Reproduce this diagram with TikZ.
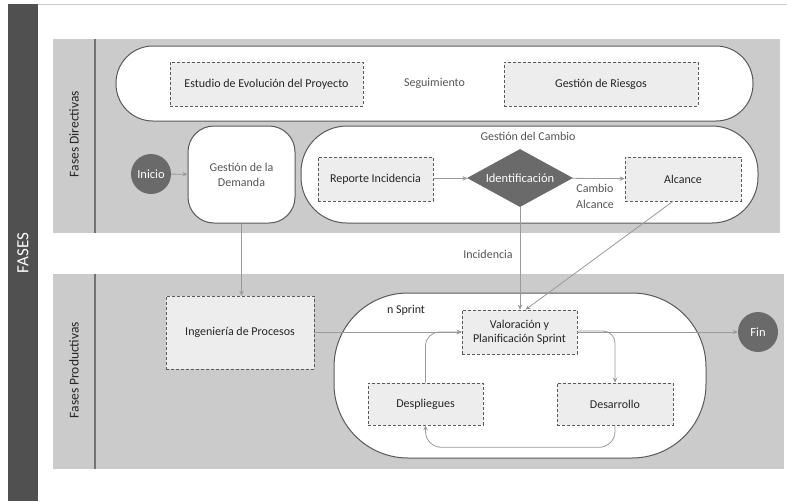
\documentclass[tikz,border=0pt]{standalone}
\usepackage{fontspec}
\setmainfont{Carlito}
\usetikzlibrary{shapes.geometric,arrows.meta}
\definecolor{bandgray}{HTML}{CBCBCB}
\definecolor{boxgray}{HTML}{EDEDED}
\definecolor{edgegray}{HTML}{5A5A5A}
\definecolor{darkdot}{HTML}{6A6A6A}
\definecolor{bargray}{HTML}{505050}
\definecolor{linkgray}{HTML}{9A9A9A}
\definecolor{txtgray}{HTML}{555555}
\tikzset{
  task/.style={rectangle, fill=boxgray, draw=edgegray, densely dashed, line width=0.6pt,
    font=\fontsize{12}{14}\selectfont, text=black!85, align=center, inner sep=0pt},
  pool/.style={rectangle, fill=white, draw=edgegray, line width=1pt, inner sep=0pt,
    font=\fontsize{12}{15}\selectfont, text=txtgray, align=center},
  event/.style={circle, fill=darkdot, draw=none, minimum size=40pt, inner sep=0pt,
    text=white, font=\fontsize{12.5}{14}\selectfont},
  note/.style={font=\fontsize{12}{14}\selectfont, text=txtgray, align=center, inner sep=0pt},
  lane/.style={font=\fontsize{13.5}{15}\selectfont, text=black!85, rotate=90, inner sep=0pt},
  link/.style={draw=linkgray, line width=0.8pt, -{Stealth[length=5pt,width=4.5pt]}}
}
\begin{document}
\begin{tikzpicture}[x=1pt,y=-1pt]
\useasboundingbox (0,0) rectangle (787,501);
\fill[white] (0,0) rectangle (787,501);
% frame
\draw[black!20, line width=0.8pt] (38,4) -- (787,4);
\fill[bargray] (8,4) rectangle (38,501);
\node[rotate=90, text=white, font=\fontsize{17}{19}\selectfont, inner sep=0pt] (fases) at (23,253) {FASES};

% lanes
\fill[bandgray] (53,39) rectangle (780,233);
\fill[bandgray] (53,274) rectangle (784,469);
\draw[black!55, line width=1.2pt] (95,39) -- (95,233);
\draw[black!55, line width=1.2pt] (95,274) -- (95,469);
\node[lane] (ldir) at (74,134) {Fases Directivas};
\node[lane] (lprod) at (74,370) {Fases Productivas};

% directive phases
\node[pool, minimum width=637pt, minimum height=75pt, rounded corners=37pt] (seg) at (434.5,83.5) {Seguimiento};
\node[task, minimum width=193pt, minimum height=44pt] (estudio) at (266.5,84) {Estudio de Evolución del Proyecto};
\node[task, minimum width=194pt, minimum height=44pt] (riesgos) at (601,84) {Gestión de Riesgos};

\node[pool, minimum width=107pt, minimum height=97pt, rounded corners=26pt] (demanda) at (241.5,174.5) {Gestión de la\\Demanda};
\node[pool, minimum width=457pt, minimum height=97pt, rounded corners=46pt] (cambio) at (529.5,174.5) {};
\node[note] (lcambio) at (528,136) {Gestión del Cambio};

\node[event] (inicio) at (151,174) {Inicio};
\node[task, minimum width=115pt, minimum height=44pt] (reporte) at (375.5,179) {Reporte Incidencia};
\node[diamond, shape aspect=1.83, fill=darkdot, draw=none, minimum width=106pt, minimum height=58pt,
  inner sep=0pt, text=white, font=\fontsize{12.5}{14}\selectfont] (ident) at (520,178) {Identificación};
\node[task, minimum width=116pt, minimum height=44pt] (alcance) at (683,179) {Alcance};
\node[note, font=\fontsize{12}{16}\selectfont] (lalc) at (595,196) {Cambio\\Alcance};

% productive phases
\node[task, minimum width=148pt, minimum height=73pt] (ingen) at (240,332.5) {Ingeniería de Procesos};
\node[pool, minimum width=372pt, minimum height=165pt, rounded corners=74pt] (sprint) at (520,375.5) {};
\node[note, text=black!85] (lsprint) at (406,310) {n Sprint};
\node[task, minimum width=115pt, minimum height=44pt] (valor) at (519.5,332) {Valoración y\\Planificación Sprint};
\node[task, minimum width=115pt, minimum height=42pt] (despl) at (425.5,404) {Despliegues};
\node[task, minimum width=116pt, minimum height=42pt] (desar) at (615,404) {Desarrollo};
\node[event] (fin) at (758,332) {Fin};
\node[note] (linc) at (488,254) {Incidencia};

% connectors
\draw[link] (inicio) -- (demanda);
\draw[link] (demanda.south) -- (demanda.south |- ingen.north);
\draw[link] (reporte) -- (ident);
\draw[link] (ident) -- (alcance);
\draw[link] (ident.south) -- (ident.south |- valor.north);
\draw[link] ([xshift=-10pt]alcance.south) -- ([xshift=6pt]valor.north);
\draw[link] (ingen.east |- valor.west) -- (valor.west);
\draw[link] (valor.east) -- (fin);
\draw[link, rounded corners=12pt] ([yshift=1pt]valor.east) -| (desar.north);
\draw[link, rounded corners=16pt] (desar.south) -- ++(0,22) -| (despl.south);
\draw[link, rounded corners=14pt] (despl.north) |- (valor.west);
\end{tikzpicture}
\end{document}
